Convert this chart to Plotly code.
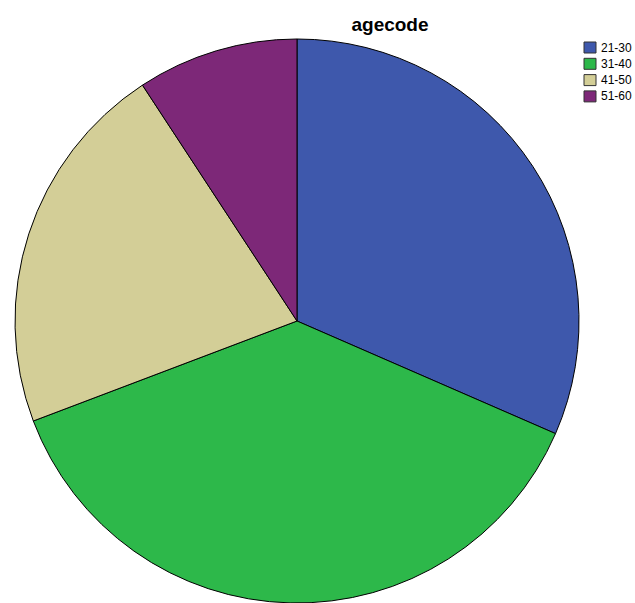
import plotly.graph_objects as go

labels = ["21-30", "31-40", "41-50", "51-60"]
values = [41, 49, 28, 12]
colors = ["#3E58AC", "#2DB84A", "#D3CE97", "#7D2878"]

W, H = 635, 603
cx, cy, r = 297, 321, 282

fig = go.Figure(go.Pie(
    labels=labels, values=values, sort=False, direction="clockwise", rotation=0,
    textinfo="none", hoverinfo="label+percent", showlegend=False,
    marker=dict(colors=colors, line=dict(color="black", width=1)),
    domain=dict(x=[(cx - r) / W, (cx + r) / W], y=[1 - (cy + r) / H, 1 - (cy - r) / H]),
))

# custom compact legend (SPSS-like)
sw_x0, sw_w, sw_h = 584, 12, 11
y0, dy = 47.5, 16.3
for i, (lab, col) in enumerate(zip(labels, colors)):
    yc = y0 + i * dy
    fig.add_shape(type="rect", xref="paper", yref="paper",
                  x0=sw_x0 / W, x1=(sw_x0 + sw_w) / W,
                  y0=1 - (yc + sw_h / 2) / H, y1=1 - (yc - sw_h / 2) / H,
                  fillcolor=col, line=dict(color="#333333", width=1))
    fig.add_annotation(xref="paper", yref="paper", x=(sw_x0 + sw_w + 3) / W, y=1 - yc / H,
                       xanchor="left", yanchor="middle", text=lab, showarrow=False,
                       font=dict(size=12, color="black", family="Liberation Sans, Arial"))

fig.update_layout(
    width=W, height=H, margin=dict(l=0, r=0, t=0, b=0, autoexpand=False),
    paper_bgcolor="white", plot_bgcolor="white",
    font=dict(family="Liberation Sans, Arial", color="black"),
    title=dict(text="<b>agecode</b>", x=390 / W, xanchor="center", y=1 - 24 / H, yanchor="middle",
               font=dict(size=19, family="Liberation Sans, Arial", color="black")),
)
fig.write_html("out.html")
